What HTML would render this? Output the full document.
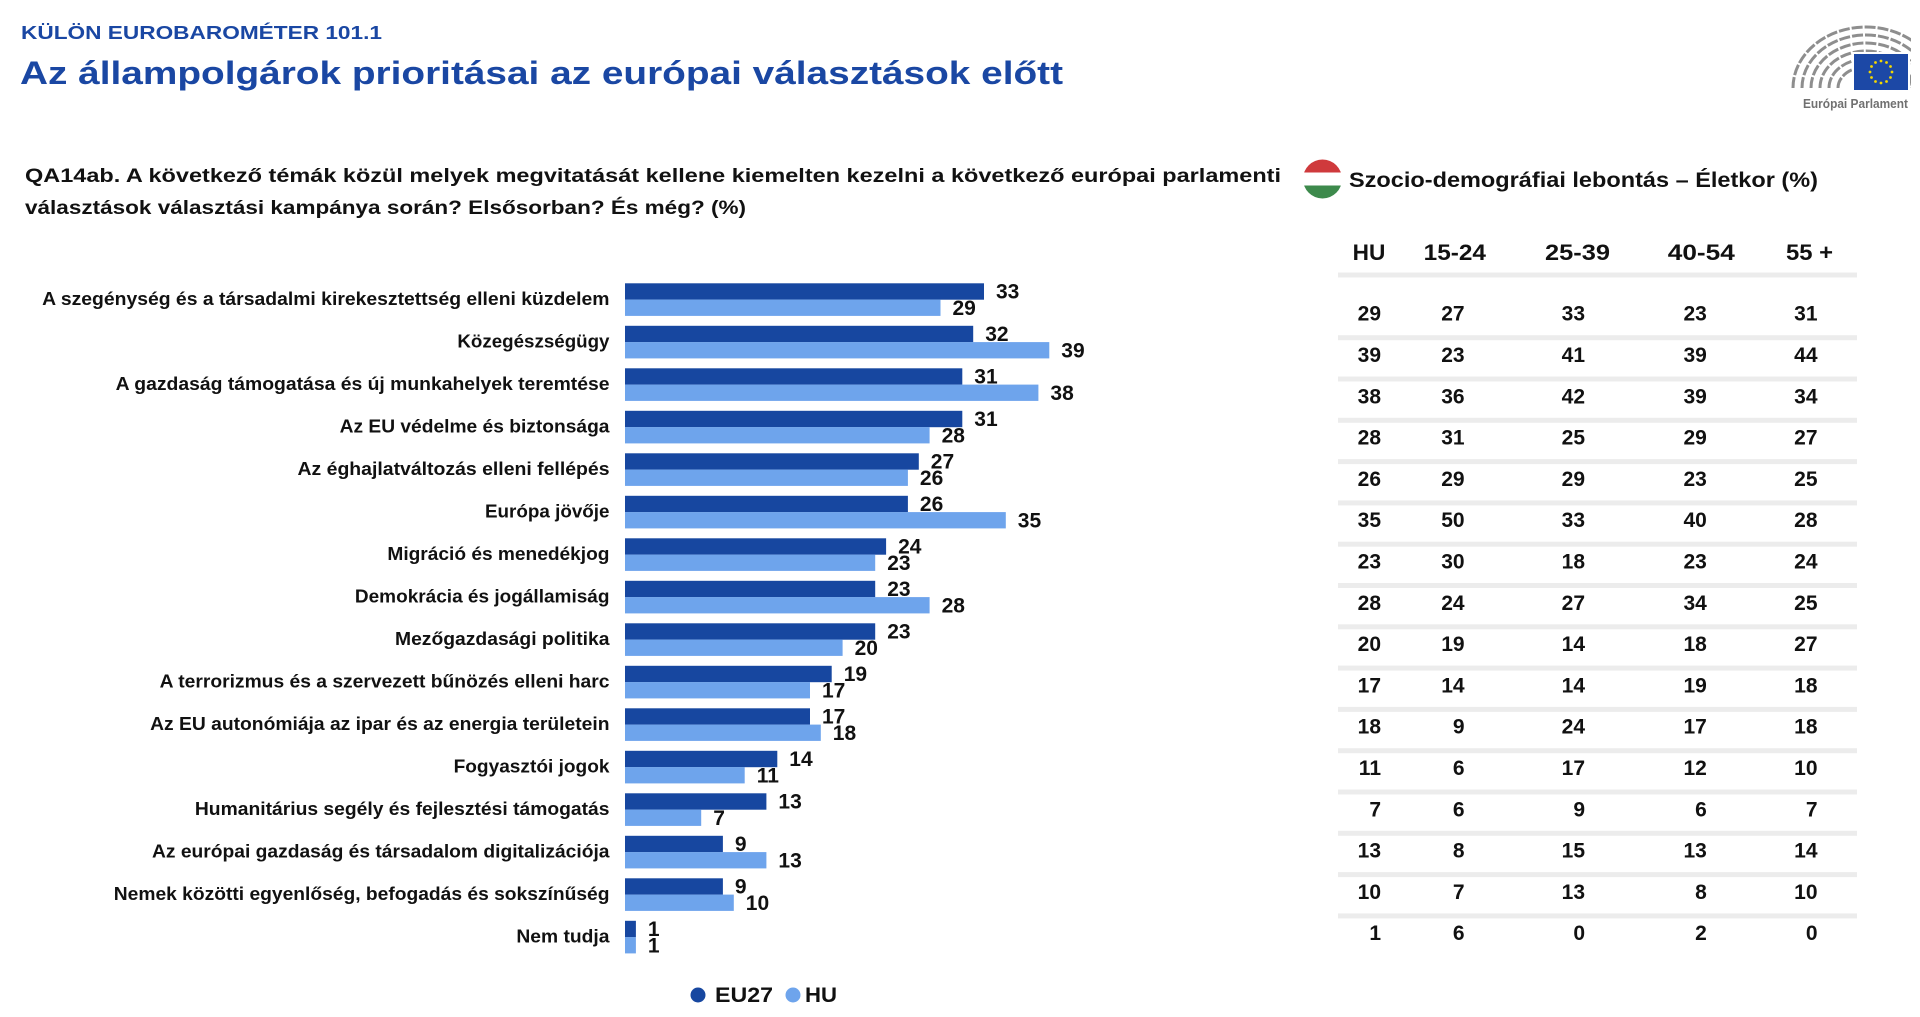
<!DOCTYPE html>
<html>
<head>
<meta charset="utf-8">
<style>
html,body{margin:0;padding:0;background:#fff;}
svg{display:block;}
text{font-family:"Liberation Sans",Arial,sans-serif;font-weight:bold;}
</style>
</head>
<body>
<svg width="1920" height="1017" viewBox="0 0 1920 1017" xmlns="http://www.w3.org/2000/svg">
<rect width="1920" height="1017" fill="#fff"/>

<!-- Header -->
<text x="21" y="39" font-size="18" fill="#1a47a3" textLength="361" lengthAdjust="spacingAndGlyphs">KÜLÖN EUROBAROMÉTER 101.1</text>
<text x="20" y="84" font-size="32" fill="#1a47a3" textLength="1043" lengthAdjust="spacingAndGlyphs">Az állampolgárok prioritásai az európai választások előtt</text>

<!-- Logo -->
<defs>
<clipPath id="hc"><rect x="1785" y="20" width="126" height="71"/></clipPath>
<clipPath id="fc"><circle cx="1322.5" cy="179" r="19.5"/></clipPath>
</defs>
<g clip-path="url(#hc)" fill="none" stroke="#8e8e8e" stroke-width="3" stroke-dasharray="11 2">
<path d="M1793,88 A73,61 0 0 1 1939,88"/>
<path d="M1802,88 A64,53 0 0 1 1930,88"/>
<path d="M1811,88 A55,45 0 0 1 1921,88"/>
<path d="M1820,88 A46,37 0 0 1 1912,88"/>
<path d="M1829,88 A37,29 0 0 1 1903,88"/>
<path d="M1838,88 A28,21 0 0 1 1894,88"/>
</g>
<rect x="1852" y="52" width="58" height="40" fill="#fff"/>
<rect x="1854" y="54" width="54" height="36" fill="#1c48a6"/>
<g fill="#f4d800">
<circle cx="1881" cy="61" r="1.4"/><circle cx="1886.5" cy="62.5" r="1.4"/><circle cx="1890.5" cy="66.5" r="1.4"/>
<circle cx="1892" cy="72" r="1.4"/><circle cx="1890.5" cy="77.5" r="1.4"/><circle cx="1886.5" cy="81.5" r="1.4"/>
<circle cx="1881" cy="83" r="1.4"/><circle cx="1875.5" cy="81.5" r="1.4"/><circle cx="1871.5" cy="77.5" r="1.4"/>
<circle cx="1870" cy="72" r="1.4"/><circle cx="1871.5" cy="66.5" r="1.4"/><circle cx="1875.5" cy="62.5" r="1.4"/>
</g>
<text x="1803" y="108" font-size="13" fill="#707070" textLength="105" lengthAdjust="spacingAndGlyphs">Európai Parlament</text>

<!-- Question -->
<text x="25" y="182" font-size="19" fill="#111" textLength="1256" lengthAdjust="spacingAndGlyphs">QA14ab. A következő témák közül melyek megvitatását kellene kiemelten kezelni a következő európai parlamenti</text>
<text x="25" y="214" font-size="19" fill="#111" textLength="721" lengthAdjust="spacingAndGlyphs">választások választási kampánya során? Elsősorban? És még? (%)</text>

<!-- Right heading with flag -->
<g clip-path="url(#fc)">
<rect x="1300" y="158" width="46" height="14.5" fill="#cf3a3c"/>
<rect x="1300" y="172.5" width="46" height="13" fill="#ffffff"/>
<rect x="1300" y="185.5" width="46" height="15" fill="#3d8a4c"/>
</g>
<text x="1349" y="187" font-size="21" fill="#111" textLength="469" lengthAdjust="spacingAndGlyphs">Szocio-demográfiai lebontás – Életkor (%)</text>

<!-- Table header -->
<g font-size="22" fill="#111">
<text x="1352.6" y="260" textLength="32.7" lengthAdjust="spacingAndGlyphs">HU</text>
<text x="1423.7" y="260" textLength="62.3" lengthAdjust="spacingAndGlyphs">15-24</text>
<text x="1545" y="260" textLength="65" lengthAdjust="spacingAndGlyphs">25-39</text>
<text x="1667.8" y="260" textLength="67" lengthAdjust="spacingAndGlyphs">40-54</text>
<text x="1786" y="260" textLength="47" lengthAdjust="spacingAndGlyphs">55 +</text>
</g>

<!-- Table grid lines -->
<g fill="#ececec">
<rect x="1338" y="272.5" width="519" height="5"/>
<rect x="1338" y="335.2" width="519" height="5"/>
<rect x="1338" y="376.5" width="519" height="5"/>
<rect x="1338" y="417.8" width="519" height="5"/>
<rect x="1338" y="459.1" width="519" height="5"/>
<rect x="1338" y="500.4" width="519" height="5"/>
<rect x="1338" y="541.7" width="519" height="5"/>
<rect x="1338" y="583.0" width="519" height="5"/>
<rect x="1338" y="624.3" width="519" height="5"/>
<rect x="1338" y="665.6" width="519" height="5"/>
<rect x="1338" y="706.9" width="519" height="5"/>
<rect x="1338" y="748.2" width="519" height="5"/>
<rect x="1338" y="789.5" width="519" height="5"/>
<rect x="1338" y="830.8" width="519" height="5"/>
<rect x="1338" y="872.1" width="519" height="5"/>
<rect x="1338" y="913.4" width="519" height="5"/>
</g>

<!-- Table values -->
<g font-size="21" fill="#111" text-anchor="end">
<text x="1381" y="320.7">29</text><text x="1464.6" y="320.7">27</text><text x="1585" y="320.7">33</text><text x="1706.8" y="320.7">23</text><text x="1817.5" y="320.7">31</text>
<text x="1381" y="362.0">39</text><text x="1464.6" y="362.0">23</text><text x="1585" y="362.0">41</text><text x="1706.8" y="362.0">39</text><text x="1817.5" y="362.0">44</text>
<text x="1381" y="403.3">38</text><text x="1464.6" y="403.3">36</text><text x="1585" y="403.3">42</text><text x="1706.8" y="403.3">39</text><text x="1817.5" y="403.3">34</text>
<text x="1381" y="444.6">28</text><text x="1464.6" y="444.6">31</text><text x="1585" y="444.6">25</text><text x="1706.8" y="444.6">29</text><text x="1817.5" y="444.6">27</text>
<text x="1381" y="485.9">26</text><text x="1464.6" y="485.9">29</text><text x="1585" y="485.9">29</text><text x="1706.8" y="485.9">23</text><text x="1817.5" y="485.9">25</text>
<text x="1381" y="527.2">35</text><text x="1464.6" y="527.2">50</text><text x="1585" y="527.2">33</text><text x="1706.8" y="527.2">40</text><text x="1817.5" y="527.2">28</text>
<text x="1381" y="568.5">23</text><text x="1464.6" y="568.5">30</text><text x="1585" y="568.5">18</text><text x="1706.8" y="568.5">23</text><text x="1817.5" y="568.5">24</text>
<text x="1381" y="609.8">28</text><text x="1464.6" y="609.8">24</text><text x="1585" y="609.8">27</text><text x="1706.8" y="609.8">34</text><text x="1817.5" y="609.8">25</text>
<text x="1381" y="651.1">20</text><text x="1464.6" y="651.1">19</text><text x="1585" y="651.1">14</text><text x="1706.8" y="651.1">18</text><text x="1817.5" y="651.1">27</text>
<text x="1381" y="692.4">17</text><text x="1464.6" y="692.4">14</text><text x="1585" y="692.4">14</text><text x="1706.8" y="692.4">19</text><text x="1817.5" y="692.4">18</text>
<text x="1381" y="733.7">18</text><text x="1464.6" y="733.7">9</text><text x="1585" y="733.7">24</text><text x="1706.8" y="733.7">17</text><text x="1817.5" y="733.7">18</text>
<text x="1381" y="775.0">11</text><text x="1464.6" y="775.0">6</text><text x="1585" y="775.0">17</text><text x="1706.8" y="775.0">12</text><text x="1817.5" y="775.0">10</text>
<text x="1381" y="816.3">7</text><text x="1464.6" y="816.3">6</text><text x="1585" y="816.3">9</text><text x="1706.8" y="816.3">6</text><text x="1817.5" y="816.3">7</text>
<text x="1381" y="857.6">13</text><text x="1464.6" y="857.6">8</text><text x="1585" y="857.6">15</text><text x="1706.8" y="857.6">13</text><text x="1817.5" y="857.6">14</text>
<text x="1381" y="898.9">10</text><text x="1464.6" y="898.9">7</text><text x="1585" y="898.9">13</text><text x="1706.8" y="898.9">8</text><text x="1817.5" y="898.9">10</text>
<text x="1381" y="940.2">1</text><text x="1464.6" y="940.2">6</text><text x="1585" y="940.2">0</text><text x="1706.8" y="940.2">2</text><text x="1817.5" y="940.2">0</text>
</g>

<!-- Category labels -->
<g font-size="18" fill="#111" text-anchor="end">
<text x="609.5" y="305.1" textLength="567.3" lengthAdjust="spacingAndGlyphs">A szegénység és a társadalmi kirekesztettség elleni küzdelem</text>
<text x="609.5" y="347.6" textLength="152.1" lengthAdjust="spacingAndGlyphs">Közegészségügy</text>
<text x="609.5" y="390.1" textLength="493.8" lengthAdjust="spacingAndGlyphs">A gazdaság támogatása és új munkahelyek teremtése</text>
<text x="609.5" y="432.6" textLength="269.9" lengthAdjust="spacingAndGlyphs">Az EU védelme és biztonsága</text>
<text x="609.5" y="475.1" textLength="312" lengthAdjust="spacingAndGlyphs">Az éghajlatváltozás elleni fellépés</text>
<text x="609.5" y="517.6" textLength="124.5" lengthAdjust="spacingAndGlyphs">Európa jövője</text>
<text x="609.5" y="560.1" textLength="222.1" lengthAdjust="spacingAndGlyphs">Migráció és menedékjog</text>
<text x="609.5" y="602.6" textLength="254.6" lengthAdjust="spacingAndGlyphs">Demokrácia és jogállamiság</text>
<text x="609.5" y="645.1" textLength="214.5" lengthAdjust="spacingAndGlyphs">Mezőgazdasági politika</text>
<text x="609.5" y="687.6" textLength="449.8" lengthAdjust="spacingAndGlyphs">A terrorizmus és a szervezett bűnözés elleni harc</text>
<text x="609.5" y="730.1" textLength="459.4" lengthAdjust="spacingAndGlyphs">Az EU autonómiája az ipar és az energia területein</text>
<text x="609.5" y="772.6" textLength="155.9" lengthAdjust="spacingAndGlyphs">Fogyasztói jogok</text>
<text x="609.5" y="815.1" textLength="414.6" lengthAdjust="spacingAndGlyphs">Humanitárius segély és fejlesztési támogatás</text>
<text x="609.5" y="857.6" textLength="457.5" lengthAdjust="spacingAndGlyphs">Az európai gazdaság és társadalom digitalizációja</text>
<text x="609.5" y="900.1" textLength="495.7" lengthAdjust="spacingAndGlyphs">Nemek közötti egyenlőség, befogadás és sokszínűség</text>
<text x="609.5" y="942.6" textLength="93.1" lengthAdjust="spacingAndGlyphs">Nem tudja</text>
</g>

<!-- EU27 bars -->
<g fill="#1747a0">
<rect x="625" y="283.3" width="359.0" height="16.4"/>
<rect x="625" y="325.8" width="348.2" height="16.4"/>
<rect x="625" y="368.3" width="337.3" height="16.4"/>
<rect x="625" y="410.8" width="337.3" height="16.4"/>
<rect x="625" y="453.3" width="293.8" height="16.4"/>
<rect x="625" y="495.8" width="282.9" height="16.4"/>
<rect x="625" y="538.3" width="261.1" height="16.4"/>
<rect x="625" y="580.8" width="250.2" height="16.4"/>
<rect x="625" y="623.3" width="250.2" height="16.4"/>
<rect x="625" y="665.8" width="206.7" height="16.4"/>
<rect x="625" y="708.3" width="185.0" height="16.4"/>
<rect x="625" y="750.8" width="152.3" height="16.4"/>
<rect x="625" y="793.3" width="141.4" height="16.4"/>
<rect x="625" y="835.8" width="97.9" height="16.4"/>
<rect x="625" y="878.3" width="97.9" height="16.4"/>
<rect x="625" y="920.8" width="10.9" height="16.4"/>
</g>
<!-- HU bars -->
<g fill="#6ea4ec">
<rect x="625" y="299.6" width="315.5" height="16.3"/>
<rect x="625" y="342.1" width="424.3" height="16.3"/>
<rect x="625" y="384.6" width="413.4" height="16.3"/>
<rect x="625" y="427.1" width="304.6" height="16.3"/>
<rect x="625" y="469.6" width="282.9" height="16.3"/>
<rect x="625" y="512.1" width="380.8" height="16.3"/>
<rect x="625" y="554.6" width="250.2" height="16.3"/>
<rect x="625" y="597.1" width="304.6" height="16.3"/>
<rect x="625" y="639.6" width="217.6" height="16.3"/>
<rect x="625" y="682.1" width="185.0" height="16.3"/>
<rect x="625" y="724.6" width="195.8" height="16.3"/>
<rect x="625" y="767.1" width="119.7" height="16.3"/>
<rect x="625" y="809.6" width="76.2" height="16.3"/>
<rect x="625" y="852.1" width="141.4" height="16.3"/>
<rect x="625" y="894.6" width="108.8" height="16.3"/>
<rect x="625" y="937.1" width="10.9" height="16.3"/>
</g>

<!-- Value labels -->
<g font-size="21" fill="#111">
<text x="996.0" y="298.6">33</text><text x="952.5" y="314.9">29</text>
<text x="985.2" y="341.1">32</text><text x="1061.3" y="357.4">39</text>
<text x="974.3" y="383.6">31</text><text x="1050.4" y="399.9">38</text>
<text x="974.3" y="426.1">31</text><text x="941.6" y="442.4">28</text>
<text x="930.8" y="468.6">27</text><text x="919.9" y="484.9">26</text>
<text x="919.9" y="511.1">26</text><text x="1017.8" y="527.4">35</text>
<text x="898.1" y="553.6">24</text><text x="887.2" y="569.9">23</text>
<text x="887.2" y="596.1">23</text><text x="941.6" y="612.4">28</text>
<text x="887.2" y="638.6">23</text><text x="854.6" y="654.9">20</text>
<text x="843.7" y="681.1">19</text><text x="822.0" y="697.4">17</text>
<text x="822.0" y="723.6">17</text><text x="832.8" y="739.9">18</text>
<text x="789.3" y="766.1">14</text><text x="756.7" y="782.4">11</text>
<text x="778.4" y="808.6">13</text><text x="713.2" y="824.9">7</text>
<text x="734.9" y="851.1">9</text><text x="778.4" y="867.4">13</text>
<text x="734.9" y="893.6">9</text><text x="745.8" y="909.9">10</text>
<text x="647.9" y="936.1">1</text><text x="647.9" y="952.4">1</text>
</g>

<!-- Legend -->
<circle cx="698" cy="995" r="7.5" fill="#1747a0"/>
<text x="715" y="1002" font-size="21" fill="#111" textLength="58" lengthAdjust="spacingAndGlyphs">EU27</text>
<circle cx="793" cy="995" r="7.5" fill="#6ea4ec"/>
<text x="805" y="1002" font-size="21" fill="#111" textLength="32" lengthAdjust="spacingAndGlyphs">HU</text>
</svg>
</body>
</html>
